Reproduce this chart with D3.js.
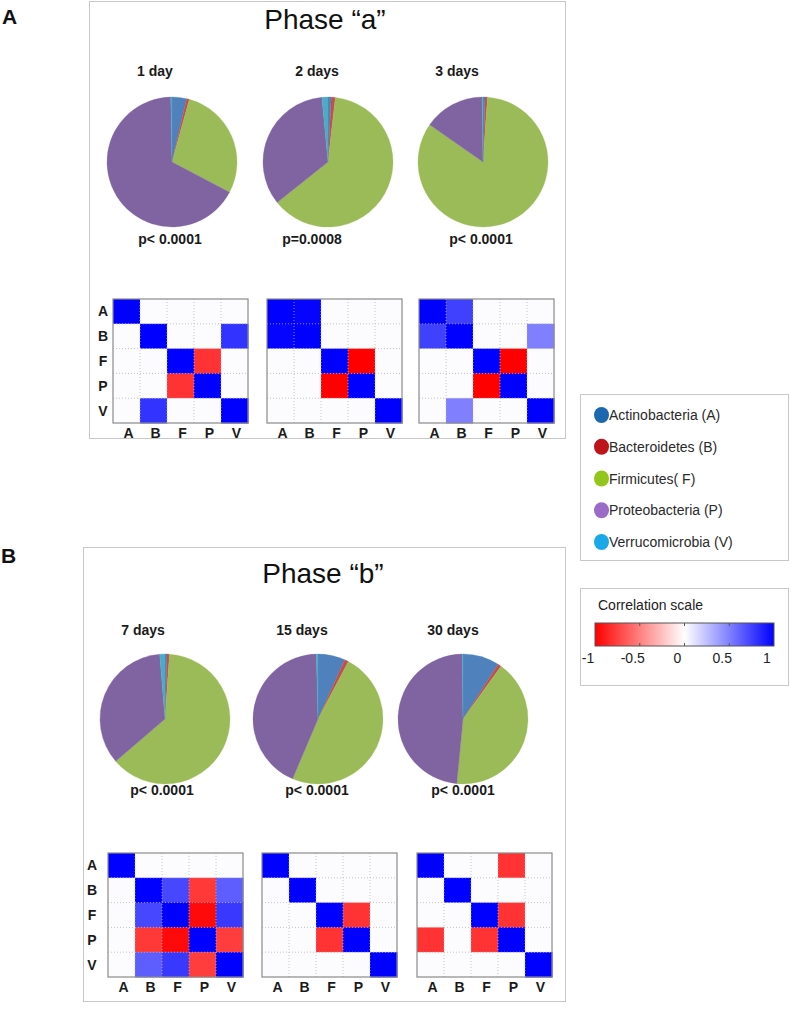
<!DOCTYPE html>
<html>
<head>
<meta charset="utf-8">
<script src="https://cdn.jsdelivr.net/npm/d3@7"></script>
<style>
  html, body { margin: 0; padding: 0; background: #fff; }
  svg { display: block; font-family: "Liberation Sans", Arial, sans-serif; }
</style>
</head>
<body>
<svg id="chart" width="791" height="1021"></svg>
<script>
// ---------------- DATA ----------------
const phylaNames = ["Actinobacteria (A)", "Bacteroidetes (B)", "Firmicutes( F)", "Proteobacteria (P)", "Verrucomicrobia (V)"];
const phylaAbbrev = ["A", "B", "F", "P", "V"];
const pieColors = ["#4f81bd", "#c0504d", "#9bbb59", "#8064a2", "#4bacc6"];
const legendColors = ["#1c68b0", "#c0141b", "#92c61c", "#9a6cc8", "#19a8e8"];

const panelLetters = ["A", "B"];
const phaseTitles = ["Phase \u201ca\u201d", "Phase \u201cb\u201d"];
const timeLabelsA = ["1 day", "2 days", "3 days"];
const timeLabelsB = ["7 days", "15 days", "30 days"];
const pLabelsA = ["p< 0.0001", "p=0.0008", "p< 0.0001"];
const pLabelsB = ["p< 0.0001", "p< 0.0001", "p< 0.0001"];

// relative abundance (%) in order A, B, F, P, V
const abund1d  = [3.6, 0.7, 28.4, 67.0, 0.3];
const abund2d  = [0.8, 1.0, 62.5, 34.2, 1.5];
const abund3d  = [0.5, 0.6, 83.6, 15.1, 0.2];
const abund7d  = [0.5, 0.6, 62.6, 35.0, 1.3];
const abund15d = [6.75, 1.0, 48.65, 43.2, 0.4];
const abund30d = [9.1, 0.85, 41.6, 48.3, 0.2];

// correlation matrices, rows/cols A, B, F, P, V
const corr1d = [
  [1, 0, 0, 0, 0],
  [0, 1, 0, 0, 0.8],
  [0, 0, 1, -0.8, 0],
  [0, 0, -0.8, 1, 0],
  [0, 0.8, 0, 0, 1]
];
const corr2d = [
  [1, 0.98, 0, 0, 0],
  [0.98, 1, 0, 0, 0],
  [0, 0, 1, -1, 0],
  [0, 0, -1, 1, 0],
  [0, 0, 0, 0, 1]
];
const corr3d = [
  [1, 0.75, 0, 0, 0],
  [0.75, 1, 0, 0, 0.5],
  [0, 0, 1, -1, 0],
  [0, 0, -1, 1, 0],
  [0, 0.5, 0, 0, 1]
];
const corr7d = [
  [1, 0, 0, 0, 0],
  [0, 1, 0.72, -0.78, 0.63],
  [0, 0.72, 1, -0.96, 0.78],
  [0, -0.78, -0.96, 1, -0.76],
  [0, 0.63, 0.78, -0.76, 1]
];
const corr15d = [
  [1, 0, 0, 0, 0],
  [0, 1, 0, 0, 0],
  [0, 0, 1, -0.8, 0],
  [0, 0, -0.8, 1, 0],
  [0, 0, 0, 0, 1]
];
const corr30d = [
  [1, 0, 0, -0.8, 0],
  [0, 1, 0, 0, 0],
  [0, 0, 1, -0.8, 0],
  [-0.8, 0, -0.8, 1, 0],
  [0, 0, 0, 0, 1]
];

const colorbarTicks = [-1, -0.5, 0, 0.5, 1];
const colorbarTickLabels = ["-1", "-0.5", "0", "0.5", "1"];
const colorbarTitle = "Correlation scale";

// ---------------- LAYOUT ----------------
const svg = d3.select("#chart");
const FONT = "'Liberation Sans', Arial, sans-serif";

const panels = [
  {
    letter: panelLetters[0], letterX: 2, letterY: 24,
    box: { x: 89.5, y: 1.5, w: 476, h: 437 },
    title: phaseTitles[0], titleX: 325, titleY: 29,
    times: timeLabelsA, timeX: [155, 317, 457], timeY: 76,
    ps: pLabelsA, pX: [170, 312, 481], pY: 244,
    abund: [abund1d, abund2d, abund3d],
    pieCX: [172, 328, 483], pieCY: 162, pieR: 65,
    corr: [corr1d, corr2d, corr3d],
    hmX: [113, 267, 419], hmY: 299, hmW: 135, hmH: 124, rowLabelX: 103
  },
  {
    letter: panelLetters[1], letterX: 1, letterY: 563,
    box: { x: 83.5, y: 547.5, w: 482, h: 454 },
    title: phaseTitles[1], titleX: 323, titleY: 583,
    times: timeLabelsB, timeX: [143, 302, 453], timeY: 635,
    ps: pLabelsB, pX: [162, 317, 463], pY: 795,
    abund: [abund7d, abund15d, abund30d],
    pieCX: [165, 318, 463], pieCY: 719, pieR: 65,
    corr: [corr7d, corr15d, corr30d],
    hmX: [108, 262, 417], hmY: 853, hmW: 135, hmH: 124, rowLabelX: 92
  }
];

const corrColor = d3.scaleLinear()
  .domain([-1, 0, 1])
  .range(["#ff0000", "#ffffff", "#0000ff"])
  .clamp(true);

const pie = d3.pie().sort(null).value(d => d);

panels.forEach(p => {
  const g = svg.append("g");

  // panel letter
  svg.append("text")
    .attr("x", p.letterX).attr("y", p.letterY)
    .attr("font-size", 21).attr("font-weight", "bold").attr("fill", "#111")
    .text(p.letter);

  // box
  g.append("rect")
    .attr("x", p.box.x).attr("y", p.box.y)
    .attr("width", p.box.w).attr("height", p.box.h)
    .attr("fill", "none").attr("stroke", "#c8c8c8").attr("stroke-width", 1);

  // title
  g.append("text")
    .attr("x", p.titleX).attr("y", p.titleY)
    .attr("text-anchor", "middle")
    .attr("font-size", 28).attr("fill", "#111")
    .text(p.title);

  for (let i = 0; i < 3; i++) {
    // time label
    g.append("text")
      .attr("x", p.timeX[i]).attr("y", p.timeY)
      .attr("text-anchor", "middle")
      .attr("font-size", 14).attr("font-weight", "bold").attr("fill", "#1a1a1a")
      .text(p.times[i]);

    // pie
    const arc = d3.arc().innerRadius(0).outerRadius(p.pieR);
    const pg = g.append("g").attr("transform", `translate(${p.pieCX[i]},${p.pieCY})`);
    pg.selectAll("path")
      .data(pie(p.abund[i]))
      .join("path")
      .attr("d", arc)
      .attr("fill", (d, j) => pieColors[j])
      .attr("stroke", (d, j) => pieColors[j])
      .attr("stroke-width", 0.3);

    // p value
    g.append("text")
      .attr("x", p.pX[i]).attr("y", p.pY)
      .attr("text-anchor", "middle")
      .attr("font-size", 14).attr("font-weight", "bold").attr("fill", "#1a1a1a")
      .text(p.ps[i]);

    // heatmap
    const xs = d3.scaleBand().domain(phylaAbbrev).range([p.hmX[i], p.hmX[i] + p.hmW]);
    const ys = d3.scaleBand().domain(phylaAbbrev).range([p.hmY, p.hmY + p.hmH]);
    const hg = g.append("g");
    const cells = [];
    p.corr[i].forEach((row, r) => row.forEach((v, c) => cells.push({ r, c, v })));
    hg.selectAll("rect.cell")
      .data(cells)
      .join("rect")
      .attr("class", "cell")
      .attr("x", d => xs(phylaAbbrev[d.c]))
      .attr("y", d => ys(phylaAbbrev[d.r]))
      .attr("width", xs.bandwidth() + 0.5)
      .attr("height", ys.bandwidth() + 0.5)
      .attr("fill", d => d.v === 0 ? "#fcfcff" : corrColor(d.v));

    // dotted grid lines
    for (let k = 1; k < 5; k++) {
      const gx = xs(phylaAbbrev[k]);
      const gy = ys(phylaAbbrev[k]);
      hg.append("line")
        .attr("x1", gx).attr("x2", gx)
        .attr("y1", p.hmY).attr("y2", p.hmY + p.hmH)
        .attr("stroke", "#b8b8b8").attr("stroke-width", 0.8)
        .attr("stroke-dasharray", "1,2");
      hg.append("line")
        .attr("x1", p.hmX[i]).attr("x2", p.hmX[i] + p.hmW)
        .attr("y1", gy).attr("y2", gy)
        .attr("stroke", "#b8b8b8").attr("stroke-width", 0.8)
        .attr("stroke-dasharray", "1,2");
    }
    hg.append("rect")
      .attr("x", p.hmX[i]).attr("y", p.hmY)
      .attr("width", p.hmW).attr("height", p.hmH)
      .attr("fill", "none").attr("stroke", "#8a8a8a").attr("stroke-width", 1.2);

    // column labels
    hg.selectAll("text.col")
      .data(phylaAbbrev)
      .join("text")
      .attr("class", "col")
      .attr("x", d => xs(d) + xs.bandwidth() / 2 + 2)
      .attr("y", p.hmY + p.hmH + 15)
      .attr("text-anchor", "middle")
      .attr("font-size", 14).attr("font-weight", "bold").attr("fill", "#1a1a1a")
      .text(d => d);

    // row labels (only first heatmap)
    if (i === 0) {
      hg.selectAll("text.row")
        .data(phylaAbbrev)
        .join("text")
        .attr("class", "row")
        .attr("x", p.rowLabelX)
        .attr("y", d => ys(d) + ys.bandwidth() / 2 + 5)
        .attr("text-anchor", "middle")
        .attr("font-size", 14).attr("font-weight", "bold").attr("fill", "#1a1a1a")
        .text(d => d);
    }
  }
});

// ---------------- LEGEND ----------------
const lg = svg.append("g");
lg.append("rect")
  .attr("x", 580.5).attr("y", 394.5).attr("width", 208).attr("height", 166)
  .attr("fill", "#fff").attr("stroke", "#c8c8c8").attr("stroke-width", 1);
const legY = d3.scalePoint().domain(phylaNames).range([415, 542]);
phylaNames.forEach((name, i) => {
  lg.append("ellipse")
    .attr("cx", 601.5).attr("cy", legY(name))
    .attr("rx", 7.5).attr("ry", 8)
    .attr("fill", legendColors[i]);
  lg.append("text")
    .attr("x", 609).attr("y", legY(name) + 5)
    .attr("font-size", 14).attr("fill", "#2a2a2a")
    .text(name);
});

// ---------------- COLOR BAR ----------------
const cb = svg.append("g");
cb.append("rect")
  .attr("x", 580.5).attr("y", 588.5).attr("width", 208).attr("height", 97)
  .attr("fill", "#fff").attr("stroke", "#c8c8c8").attr("stroke-width", 1);
cb.append("text")
  .attr("x", 598).attr("y", 610)
  .attr("font-size", 14).attr("fill", "#222")
  .text(colorbarTitle);

const defs = svg.append("defs");
const grad = defs.append("linearGradient").attr("id", "corrgrad")
  .attr("x1", "0%").attr("x2", "100%").attr("y1", "0%").attr("y2", "0%");
const cbScale = d3.scaleLinear().domain([-1, 1]).range([595, 774]);
colorbarTicks.forEach(t => {
  grad.append("stop")
    .attr("offset", ((t + 1) / 2 * 100) + "%")
    .attr("stop-color", corrColor(t));
});
const cbY = 623, cbH = 23;
cb.append("rect")
  .attr("x", cbScale(-1)).attr("y", cbY)
  .attr("width", cbScale(1) - cbScale(-1)).attr("height", cbH)
  .attr("fill", "url(#corrgrad)").attr("stroke", "#555").attr("stroke-width", 1);
colorbarTicks.forEach((t, i) => {
  if (i > 0 && i < colorbarTicks.length - 1) {
    cb.append("line").attr("x1", cbScale(t)).attr("x2", cbScale(t))
      .attr("y1", cbY).attr("y2", cbY + 3).attr("stroke", "#555");
    cb.append("line").attr("x1", cbScale(t)).attr("x2", cbScale(t))
      .attr("y1", cbY + cbH - 3).attr("y2", cbY + cbH).attr("stroke", "#555");
  }
  cb.append("text")
    .attr("x", cbScale(t) - 7).attr("y", 663)
    .attr("text-anchor", "middle")
    .attr("font-size", 14).attr("fill", "#222")
    .text(colorbarTickLabels[i]);
});
</script>
</body>
</html>
